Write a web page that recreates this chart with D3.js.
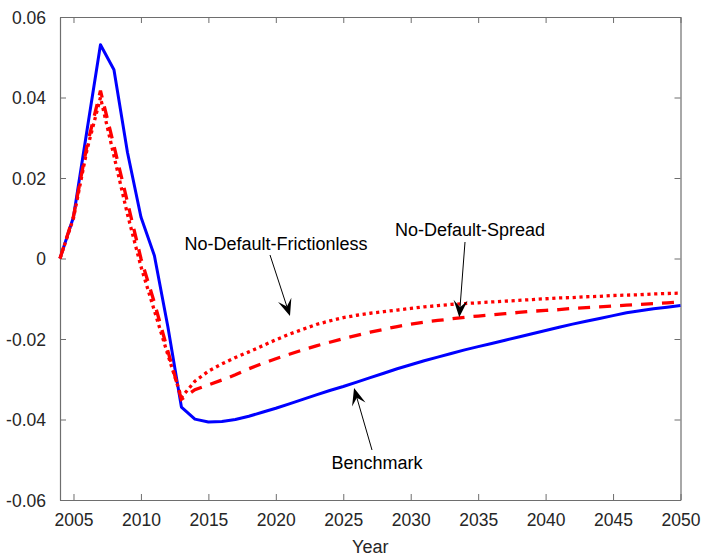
<!DOCTYPE html>
<html>
<head>
<meta charset="utf-8">
<script src="https://cdn.jsdelivr.net/npm/d3@7/dist/d3.min.js"></script>
<style>
  html, body { margin: 0; padding: 0; background: #fff; }
  svg { display: block; font-family: "Liberation Sans", Arial, Helvetica, sans-serif; }
</style>
</head>
<body>
<svg id="chart" width="703" height="557"></svg>
<script>
// ---- data ----
const years = d3.range(2004, 2051);
const benchmark = [
  0.0000, 0.0103, 0.0318, 0.0531, 0.0469, 0.0264, 0.0103, 0.0007, -0.0170, -0.0369,
  -0.0399, -0.0406, -0.0405, -0.0400, -0.0392, -0.0382, -0.0372, -0.0361, -0.0350, -0.0339,
  -0.0328, -0.0318, -0.0307, -0.0296, -0.0285, -0.0274, -0.0264, -0.0254, -0.0245, -0.0236,
  -0.0227, -0.0219, -0.0211, -0.0203, -0.0195, -0.0187, -0.0179, -0.0171, -0.0163, -0.0156,
  -0.0149, -0.0142, -0.0135, -0.0130, -0.0125, -0.0121, -0.0117
];
const noDefaultFrictionless = [
  0.0000, 0.0100, 0.0270, 0.0400, 0.0255, 0.0110, -0.0020, -0.0130, -0.0240, -0.0345,
  -0.0305, -0.0280, -0.0262, -0.0246, -0.0232, -0.0217, -0.0202, -0.0188, -0.0176, -0.0164,
  -0.0155, -0.0147, -0.0141, -0.0136, -0.0132, -0.0128, -0.0124, -0.0120, -0.0117, -0.0114,
  -0.0112, -0.0110, -0.0108, -0.0106, -0.0104, -0.0102, -0.0100, -0.0098, -0.0097, -0.0095,
  -0.0094, -0.0092, -0.0091, -0.0090, -0.0088, -0.0087, -0.0086
];
const noDefaultSpread = [
  0.0000, 0.0105, 0.0280, 0.0417, 0.0280, 0.0140, 0.0000, -0.0110, -0.0230, -0.0350,
  -0.0326, -0.0314, -0.0302, -0.0289, -0.0274, -0.0261, -0.0249, -0.0238, -0.0227, -0.0217,
  -0.0208, -0.0199, -0.0191, -0.0183, -0.0176, -0.0169, -0.0163, -0.0158, -0.0154, -0.0150,
  -0.0146, -0.0143, -0.0140, -0.0137, -0.0134, -0.0131, -0.0129, -0.0127, -0.0124, -0.0122,
  -0.0120, -0.0118, -0.0116, -0.0114, -0.0112, -0.0110, -0.0108
];
const xTicks = [2005, 2010, 2015, 2020, 2025, 2030, 2035, 2040, 2045, 2050];
const yTicks = [-0.06, -0.04, -0.02, 0, 0.02, 0.04, 0.06];
const yTickLabels = ["-0.06", "-0.04", "-0.02", "0", "0.02", "0.04", "0.06"];
const xLabel = "Year";
const annotationLabels = ["No-Default-Frictionless", "No-Default-Spread", "Benchmark"];

// ---- layout ----
const svg = d3.select("#chart");
const mLeft = 60, mRight = 680.5, mTop = 17, mBottom = 500;
const x = d3.scaleLinear().domain([2004, 2050]).range([mLeft, mRight]);
const y = d3.scaleLinear().domain([-0.06, 0.06]).range([mBottom, mTop]);

svg.append("rect").attr("width", 703).attr("height", 557).attr("fill", "#fff");

const axisColor = "#6e6e6e";
const textColor = "#262626";

// axes (ticks pointing inward)
const gx = svg.append("g").attr("transform", `translate(0,${mBottom})`)
  .call(d3.axisBottom(x).tickValues(xTicks).tickFormat(d3.format("d")).tickSizeInner(-6).tickSizeOuter(0).tickPadding(14));
const gxt = svg.append("g").attr("transform", `translate(0,${mTop})`)
  .call(d3.axisTop(x).tickValues(xTicks).tickFormat("").tickSizeInner(-6).tickSizeOuter(0));
const gy = svg.append("g").attr("transform", `translate(${mLeft},0)`)
  .call(d3.axisLeft(y).tickValues(yTicks).tickFormat((d, i) => yTickLabels[i]).tickSizeInner(-6).tickSizeOuter(0).tickPadding(14));
const gyr = svg.append("g").attr("transform", `translate(${mRight},0)`)
  .call(d3.axisRight(y).tickValues(yTicks).tickFormat("").tickSizeInner(-6).tickSizeOuter(0));

[gx, gxt, gy, gyr].forEach(g => {
  g.select(".domain").attr("stroke", axisColor).attr("stroke-width", 1.2);
  g.selectAll(".tick line").attr("stroke", axisColor).attr("stroke-width", 1);
  g.selectAll(".tick text").attr("fill", textColor).attr("font-size", "17.5px")
    .attr("font-family", "Liberation Sans, Arial, sans-serif");
});
gy.selectAll(".tick text").attr("dy", "0.36em");

// x label
svg.append("text").attr("x", (mLeft + mRight) / 2).attr("y", 553)
  .attr("text-anchor", "middle").attr("fill", textColor).attr("font-size", "18px").text(xLabel);

// lines
const line = d3.line().x((d, i) => x(years[i])).y(d => y(d));
const plot = svg.append("g");
plot.append("path").datum(benchmark).attr("d", line)
  .attr("fill", "none").attr("stroke", "#0000ff").attr("stroke-width", 3).attr("stroke-linejoin", "round");
plot.append("path").datum(noDefaultSpread).attr("d", line)
  .attr("fill", "none").attr("stroke", "#ff0000").attr("stroke-width", 3.3)
  .attr("stroke-dasharray", "12,9");
plot.append("path").datum(noDefaultFrictionless).attr("d", line)
  .attr("fill", "none").attr("stroke", "#ff0000").attr("stroke-width", 3.3)
  .attr("stroke-dasharray", "3.2,3.6");

// annotations: text + arrow (MATLAB-like vback2 heads)
function arrow(x1, y1, x2, y2) {
  const g = svg.append("g");
  const ang = Math.atan2(y2 - y1, x2 - x1);
  const L = 17, W = 7, notch = 10;
  const bx = x2 - L * Math.cos(ang), by = y2 - L * Math.sin(ang);
  const nx = x2 - notch * Math.cos(ang), ny = y2 - notch * Math.sin(ang);
  const px = -Math.sin(ang), py = Math.cos(ang);
  g.append("line").attr("x1", x1).attr("y1", y1).attr("x2", nx).attr("y2", ny)
    .attr("stroke", "#000").attr("stroke-width", 1);
  g.append("path")
    .attr("d", `M${x2},${y2} L${bx + W * px},${by + W * py} L${nx},${ny} L${bx - W * px},${by - W * py} Z`)
    .attr("fill", "#000");
}
const ann = svg.append("g").attr("font-size", "18px").attr("fill", "#000");
ann.append("text").attr("x", 276).attr("y", 250).attr("text-anchor", "middle").text(annotationLabels[0]);
ann.append("text").attr("x", 470).attr("y", 236).attr("text-anchor", "middle").text(annotationLabels[1]);
ann.append("text").attr("x", 377).attr("y", 469).attr("text-anchor", "middle").text(annotationLabels[2]);

arrow(270, 255, x(2021.05), y(-0.0143));
arrow(465, 242, x(2033.6), y(-0.0146));
arrow(372, 450, x(2025.8), y(-0.0322));
</script>
</body>
</html>
